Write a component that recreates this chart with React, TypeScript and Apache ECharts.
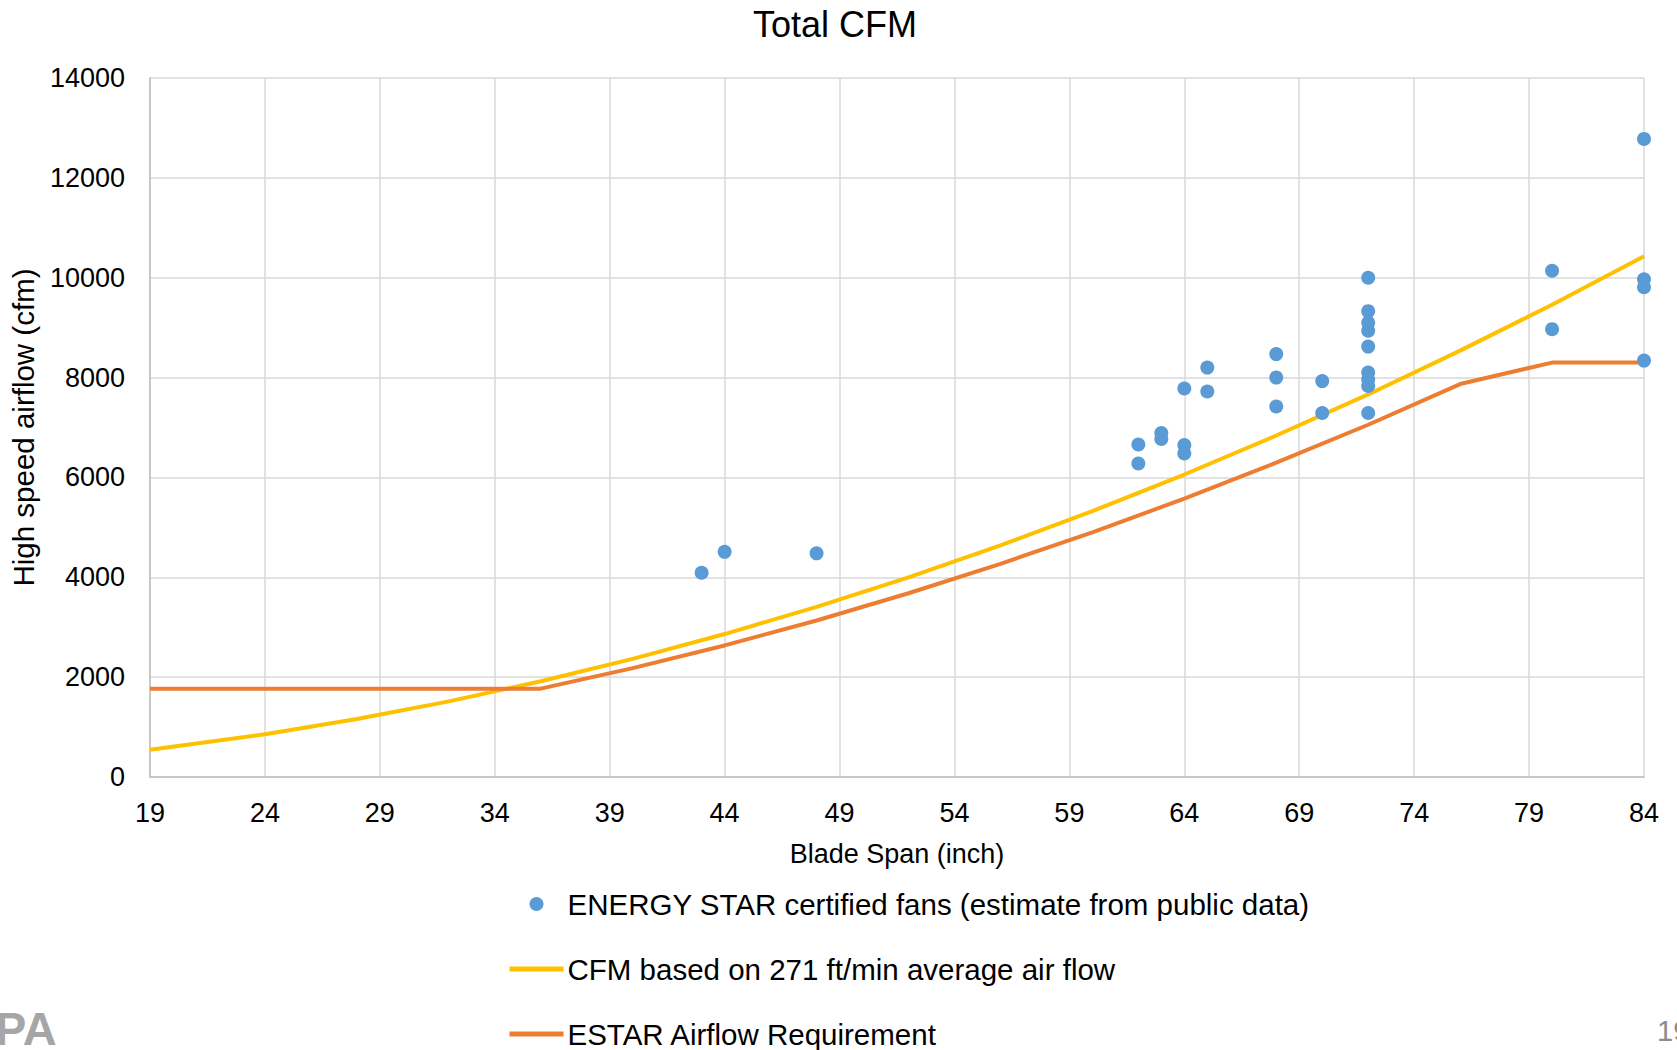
import React, { useEffect, useRef } from "react";
import * as echarts from "echarts";

// Axis setup
const X_MIN = 19;
const X_MAX = 84;
const X_STEP = 5;
const Y_MAX = 14000;
const Y_STEP = 2000;

// ENERGY STAR certified fans (estimate from public data)
const fanSpan = [43, 44, 48, 62, 62, 63, 63, 64, 64, 64, 65, 65, 68, 68, 68, 70, 70, 72, 72, 72, 72, 72, 72, 72, 72, 72, 80, 80, 84, 84, 84, 84];
const fanCfm = [4090, 4510, 4480, 6660, 6280, 6890, 6770, 7780, 6650, 6480, 8200, 7720, 8470, 8000, 7420, 7930, 7290, 10000, 9330, 9100, 8940, 8620, 8100, 7960, 7830, 7290, 10140, 8970, 12780, 9970, 9810, 8340];

// Curves
const curveSpan = [19, 24, 28, 32, 36, 40, 44, 48, 52, 56, 60, 64, 68, 72, 76, 80, 84];
const cfm271 = [545, 855, 1160, 1515, 1917, 2366, 2863, 3407, 3999, 4638, 5324, 6058, 6839, 7662, 8540, 9460, 10430];
const estarReq = [1770, 1770, 1770, 1770, 1770, 2180, 2635, 3135, 3680, 4270, 4900, 5575, 6295, 7055, 7870, 8300, 8300];

const seriesNames = [
  "ENERGY STAR certified fans (estimate from public data)",
  "CFM based on 271 ft/min average air flow",
  "ESTAR Airflow Requirement",
];

const FONT = "'Liberation Sans', Arial, sans-serif";

export default function App() {
  const ref = useRef<HTMLDivElement>(null);
  useEffect(() => {
    if (!ref.current) return;
    const chart = echarts.init(ref.current, undefined, { renderer: "svg" });
    const shift = (x: number) => x - X_MIN;
    const hiddenDot = { color: "rgba(0,0,0,0)", borderWidth: 0, opacity: 0 };
    const option = {
      animation: false,
      backgroundColor: "#ffffff",
      textStyle: { fontFamily: FONT },
      title: {
        text: "Total CFM",
        left: 830,
        top: 1,
        textAlign: "center",
        textStyle: { fontSize: 36, fontWeight: "normal", color: "#000", fontFamily: FONT },
      },
      grid: { left: 150, right: 33, top: 78, bottom: 273, containLabel: false },
      legend: {
        orient: "vertical",
        left: 507,
        top: 889,
        height: 200,
        padding: 0,
        itemGap: 35,
        itemWidth: 54,
        itemHeight: 14,
        textStyle: { fontSize: 29.5, color: "#000", fontFamily: FONT, lineHeight: 26, padding: [0, 0, 0, -1] },
        data: [
          { name: seriesNames[0], icon: "circle" },
          { name: seriesNames[1], itemStyle: hiddenDot, lineStyle: { width: 5 } },
          { name: seriesNames[2], itemStyle: hiddenDot, lineStyle: { width: 5 } },
        ],
      },
      xAxis: {
        type: "value",
        min: 0,
        max: X_MAX - X_MIN,
        interval: X_STEP,
        name: "Blade Span (inch)",
        nameLocation: "middle",
        nameGap: 63,
        nameTextStyle: { fontSize: 27, color: "#000", fontFamily: FONT },
        axisLine: { show: true, lineStyle: { color: "#BFBFBF", width: 1.5 } },
        axisTick: { show: false },
        axisLabel: {
          fontSize: 27,
          color: "#000",
          margin: 22,
          fontFamily: FONT,
          formatter: (v: number) => String(v + X_MIN),
        },
        splitLine: { show: true, lineStyle: { color: "#D9D9D9", width: 1.5 } },
      },
      yAxis: {
        type: "value",
        min: 0,
        max: Y_MAX,
        interval: Y_STEP,
        name: "High speed airflow (cfm)",
        nameLocation: "middle",
        nameGap: 112,
        nameTextStyle: { fontSize: 29.5, color: "#000", fontFamily: FONT },
        axisLine: { show: true, lineStyle: { color: "#BFBFBF", width: 1.5 } },
        axisTick: { show: false },
        axisLabel: {
          fontSize: 27,
          color: "#000",
          margin: 25,
          fontFamily: FONT,
          formatter: (v: number) => String(v),
        },
        splitLine: { show: true, lineStyle: { color: "#D9D9D9", width: 1.5 } },
      },
      series: [
        {
          name: seriesNames[0],
          type: "scatter",
          z: 4,
          symbol: "circle",
          symbolSize: 14,
          itemStyle: { color: "#5B9BD5", opacity: 1 },
          data: fanSpan.map((x, i) => [shift(x), fanCfm[i]]),
        },
        {
          name: seriesNames[1],
          type: "line",
          z: 3,
          symbol: "none",
          showSymbol: false,
          lineStyle: { color: "#FFC000", width: 4 },
          itemStyle: { color: "#FFC000" },
          data: curveSpan.map((x, i) => [shift(x), cfm271[i]]),
        },
        {
          name: seriesNames[2],
          type: "line",
          z: 3,
          symbol: "none",
          showSymbol: false,
          lineStyle: { color: "#ED7D31", width: 4 },
          itemStyle: { color: "#ED7D31" },
          data: curveSpan.map((x, i) => [shift(x), estarReq[i]]),
        },
      ],
      graphic: [
        {
          type: "text",
          x: -5,
          y: 1005,
          style: { text: "PA", fontSize: 47, fontWeight: "bold", fill: "#A6A6A6", fontFamily: FONT, letterSpacing: -3 },
        },
        {
          type: "text",
          x: 1657,
          y: 1016,
          style: { text: "19", fontSize: 29, fill: "#8C8C8C", fontFamily: FONT },
        },
      ],
    };
    chart.setOption(option as any);
    return () => chart.dispose();
  }, []);
  return (
    <div
      ref={ref}
      style={{ position: "absolute", left: 0, top: 0, width: 1677, height: 1050 }}
    />
  );
}
